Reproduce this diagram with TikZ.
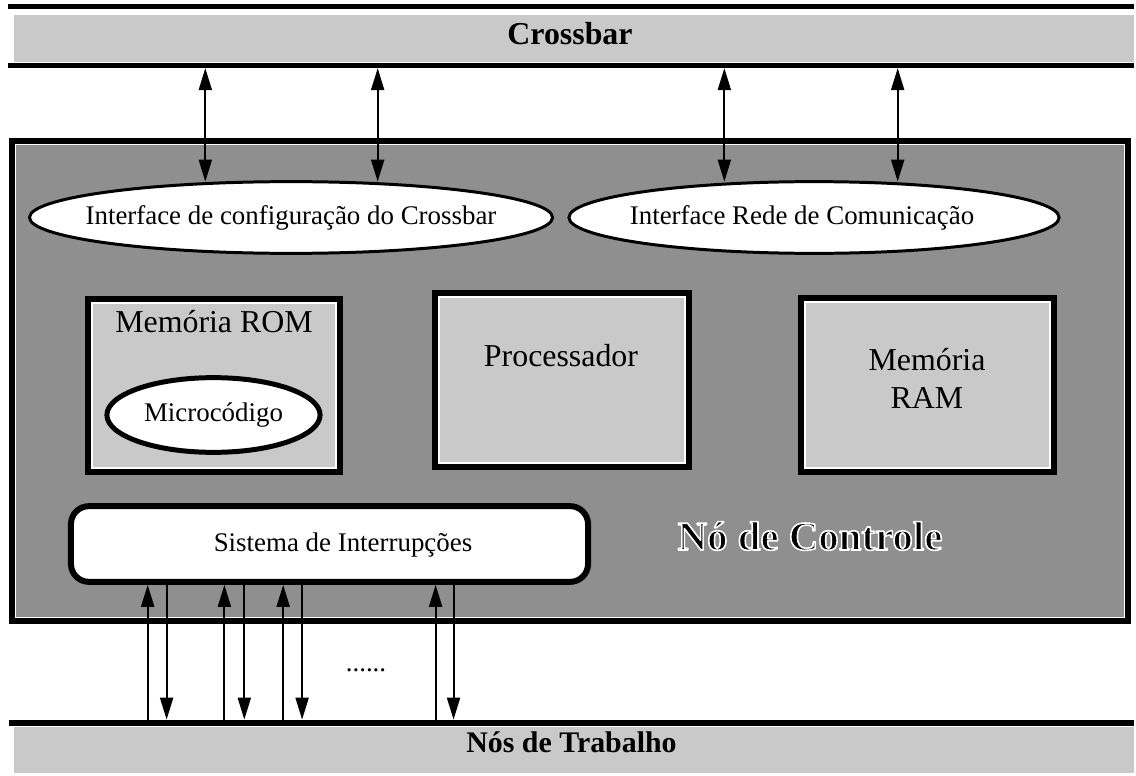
\documentclass[tikz,border=0pt]{standalone}
\usepackage{fontspec}
\setmainfont{Liberation Serif}
\usetikzlibrary{arrows.meta,shapes.geometric,calc}

\definecolor{darkfill}{HTML}{8F8F8F}
\definecolor{lightfill}{HTML}{C9C9C9}

\newcommand\sizeS{\fontsize{27pt}{32pt}\selectfont}
\newcommand\sizeM{\fontsize{32pt}{38pt}\selectfont}
\newcommand\sizeB{\fontsize{30pt}{36pt}\selectfont}
\newcommand\sizeL{\fontsize{41pt}{48pt}\selectfont}

% outlined text: black fill, white stroke round the glyphs
\newcommand\halo[1]{%
  \special{pdf:literal direct 1 1 1 RG 1.6 w 1 j 2 Tr}#1%
  \special{pdf:literal direct 0 Tr 0 0 0 RG 1 w 0 j}}

% thin white line just inside a framed box
\newcommand\hilite[1]{\draw[white, line width=1.2pt]
  ($(#1.north west)+(3.6,3.6)$) rectangle ($(#1.south east)+(-3.6,-3.6)$);}

\begin{document}
\begin{tikzpicture}[x=1bp, y=-1bp,
  every node/.style={outer sep=0pt},
  rule/.style={line width=5.5pt, line cap=butt},
  band/.style={rectangle, fill=lightfill, inner sep=0pt},
  frame/.style={rectangle, draw=black, line width=6pt, inner sep=0pt},
  iface/.style={ellipse, draw=black, line width=3pt, fill=white, inner sep=0pt, font=\sizeS},
  micro/.style={ellipse, draw=black, line width=5pt, fill=white, inner sep=0pt, font=\sizeS},
  tip/.tip={Triangle[length=22pt, width=13pt]},
  link/.style={line width=2pt, -tip},
  biarrow/.style={line width=2pt, tip-tip}
]
\fill[white] (0,0) rectangle (1136,776);
\useasboundingbox (0,0) rectangle (1136,776);

% Crossbar bus
\node[band, minimum width=1124, minimum height=47] (cb) at (574,38.5) {};
\draw[rule] ([xshift=-6pt,yshift=8.5pt]cb.north west) -- ([yshift=8.5pt]cb.north east);
\draw[rule] ([xshift=-6pt,yshift=-3.5pt]cb.south west) -- ([yshift=-3.5pt]cb.south east);
\node[font=\sizeM\bfseries] (cbt) at (570,34) {Crossbar};

% control node body
\node[frame, fill=darkfill, minimum width=1120, minimum height=482] (nc) at (570,381) {};
\hilite{nc}

% interfaces
\node[iface, minimum width=525, minimum height=72] (e1) at (291,217.5)
  {\makebox[0pt]{Interface de configuração do Crossbar}};
\node[iface, minimum width=492, minimum height=72] (e2) at (814,217.5)
  {\makebox[0pt]{\hspace*{-24pt}Interface Rede de Comunicação}};

% memories and processor
\node[frame, fill=lightfill, minimum width=252, minimum height=173] (rom) at (214,385.5) {};
\hilite{rom}
\node[font=\sizeM] (romt) at (214,322) {Memória ROM};
\node[micro, minimum width=214, minimum height=75] (mc) at (213.5,415) {Microcódigo};

\node[frame, fill=lightfill, minimum width=254, minimum height=174] (proc) at (562,380) {};
\hilite{proc}
\node[font=\sizeM] (proct) at (561,356) {Processador};

\node[frame, fill=lightfill, minimum width=253, minimum height=174] (ram) at (927.5,385) {};
\hilite{ram}
\node[font=\sizeM, align=center] (ramt) at (927,378) {Memória\\RAM};

% interrupt system
\node[frame, rounded corners=18pt, fill=white, minimum width=519, minimum height=76] (si) at (329.5,544) {};
\node[font=\sizeS] (sit) at (343,545) {Sistema de Interrupções};

\node[font=\sizeL\bfseries] (nct) at (810,536) {\halo{Nó de Controle}};

% worker nodes bus
\node[band, minimum width=1124, minimum height=46] (nt) at (574,750) {};
\draw[rule, line width=6pt] ([xshift=-5pt,yshift=4.5pt]nt.north west) -- ([yshift=4.5pt]nt.north east);
\node[font=\sizeB\bfseries] (ntt) at (571.5,742) {Nós de Trabalho};

\node[font=\sizeS, anchor=base] (dots) at (366,671) {......};

% crossbar <-> interfaces
\path ([xshift=-86pt]e1.north) coordinate (a1)
      ([xshift=87pt]e1.north)  coordinate (a2)
      ([xshift=-90pt]e2.north) coordinate (a3)
      ([xshift=84pt]e2.north)  coordinate (a4);
\foreach \c in {a1,a2,a3,a4}
  \draw[biarrow, shorten <=6.25pt] (\c |- cb.south) -- (\c);

% interrupt lines
\path ([xshift=77pt]si.south west)  coordinate (u1)
      ([xshift=154pt]si.south west) coordinate (u2)
      ([xshift=213pt]si.south west) coordinate (u3)
      ([xshift=366pt]si.south west) coordinate (u4)
      ([xshift=96pt]si.south west)  coordinate (d1)
      ([xshift=174pt]si.south west) coordinate (d2)
      ([xshift=232pt]si.south west) coordinate (d3)
      ([xshift=384pt]si.south west) coordinate (d4);
\foreach \c in {u1,u2,u3,u4}
  \draw[link, shorten <=7.5pt, shorten >=3pt] (\c |- nt.north) -- (\c);
\foreach \c in {d1,d2,d3,d4}
  \draw[link, shorten >=7.5pt] (\c) -- (\c |- nt.north);
\end{tikzpicture}
\end{document}
